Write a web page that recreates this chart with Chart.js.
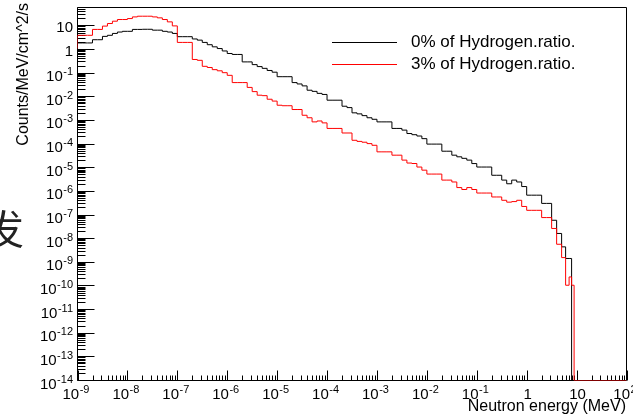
<!DOCTYPE html>
<html><head><meta charset="utf-8">
<script src="https://cdn.jsdelivr.net/npm/chart.js@4.4.1/dist/chart.umd.min.js"></script>
<style>
html,body{margin:0;padding:0;background:#fff;}
#wrap{position:relative;width:633px;height:414px;overflow:hidden;background:#fff;}
#c{position:absolute;left:0;top:0;}
#cjk{position:absolute;left:-16px;top:207px;font-family:"Noto Sans CJK SC";font-size:40px;line-height:40px;color:#222;}
</style></head><body>
<div id="wrap"><canvas id="c" width="633" height="414"></canvas><div id="cjk">发</div></div>
<script>
// Bin left edges, as log10(E / MeV); the last bin ends at lastEdgeExponent
const edgeExponents = [
  -9,-8.9,-8.8,-8.7,-8.6,-8.5,-8.4,-8.3,-8.2,-8.1,
  -8,-7.9,-7.8,-7.7,-7.6,-7.5,-7.4,-7.3,-7.2,-7.1,
  -7,-6.9,-6.8,-6.7,-6.6,-6.5,-6.4,-6.3,-6.2,-6.1,
  -6,-5.9,-5.8,-5.7,-5.6,-5.5,-5.4,-5.3,-5.2,-5.1,
  -5,-4.9,-4.8,-4.7,-4.6,-4.5,-4.4,-4.3,-4.2,-4.1,
  -4,-3.9,-3.8,-3.7,-3.6,-3.5,-3.4,-3.3,-3.2,-3.1,
  -3,-2.9,-2.8,-2.7,-2.6,-2.5,-2.4,-2.3,-2.2,-2.1,
  -2,-1.9,-1.8,-1.7,-1.6,-1.5,-1.4,-1.3,-1.2,-1.1,
  -1,-0.9,-0.8,-0.7,-0.6,-0.5,-0.4,-0.3,-0.2,-0.1,
  0,0.1,0.2,0.3,0.4,0.5,0.6,0.7,
  0.78,0.85,0.9,0.95
];
const lastEdgeExponent = 2;
const startLevel = 1.1;

// 0% of Hydrogen.ratio. (black)
const hydrogen0 = [
  1.9,1.9,1.9,2.6,2.6,3.6,4.0,4.8,5.5,5.9,
  5.9,7.1,7.1,7.2,7.2,6.6,6.6,5.9,5.5,4.8,
  3.5,3.5,3.5,2.8,2.5,2.0,1.6,1.3,1.1,0.87,
  0.68,0.62,0.62,0.30,0.30,0.23,0.19,0.16,0.13,0.11,
  0.071,0.071,0.071,0.040,0.035,0.029,0.019,0.017,0.014,0.0126,
  0.0072,0.0072,0.0072,0.0040,0.0035,0.0021,0.0019,0.0016,0.0013,0.00112,
  8.7e-4,8.7e-4,8.7e-4,4.6e-4,4.6e-4,3.9e-4,2.8e-4,2.5e-4,2.2e-4,1.7e-4,
  1.0e-4,1.0e-4,1.0e-4,5.0e-5,5.0e-5,3.4e-5,2.9e-5,2.5e-5,2.1e-5,1.5e-5,
  1.07e-5,1.07e-5,1.07e-5,4.8e-6,4.8e-6,3.0e-6,2.1e-6,3.0e-6,2.5e-6,1.6e-6,
  6.9e-7,6.9e-7,6.9e-7,3.1e-7,3.1e-7,6.0e-8,1.66e-8,4.5e-9,
  1.45e-9,1.45e-9,1e-14,1e-14
];
// 3% of Hydrogen.ratio. (red)
const hydrogen3 = [
  4.0,4.0,4.0,7.1,7.1,9.8,12.6,15.8,18.6,18.6,
  20.4,24.0,25.7,25.7,25.7,24.0,21.9,18.6,14.8,10.0,
  2.0,2.0,2.0,0.38,0.35,0.195,0.174,0.141,0.126,0.105,
  0.081,0.040,0.040,0.040,0.025,0.0166,0.0117,0.0112,0.0079,0.0066,
  0.0044,0.0042,0.0042,0.0029,0.0029,0.00166,0.0013,8.7e-4,9.5e-4,7.9e-4,
  4.6e-4,4.6e-4,4.6e-4,2.95e-4,2.95e-4,1.45e-4,1.3e-4,1.2e-4,1.05e-4,8.9e-5,
  4.7e-5,4.7e-5,4.7e-5,3.4e-5,3.4e-5,2.1e-5,1.58e-5,1.51e-5,1.07e-5,7.9e-6,
  5.4e-6,5.4e-6,5.4e-6,3.0e-6,3.0e-6,2.5e-6,1.45e-6,1.2e-6,1.45e-6,1.2e-6,
  8.5e-7,8.5e-7,8.5e-7,5.8e-7,5.8e-7,4.2e-7,3.5e-7,3.7e-7,4.2e-7,2.3e-7,
  1.58e-7,1.58e-7,1.58e-7,7.8e-8,7.8e-8,2.7e-8,5.8e-9,1.58e-9,
  1.07e-10,2.4e-10,1.07e-10,1e-14
];

const seriesLabels = ["0% of Hydrogen.ratio.", "3% of Hydrogen.ratio."];
const seriesColors = ["#000000", "#ff0000"];
const xTickExponents = [-9,-8,-7,-6,-5,-4,-3,-2,-1,0,1,2];
const yTickExponents = [-14,-13,-12,-11,-10,-9,-8,-7,-6,-5,-4,-3,-2,-1,0,1];
const minorMultipliers = [2,3,4,5,6,7,8,9];
const xTitle = "Neutron energy (MeV)";
const yTitle = "Counts/MeV/cm^2/s";
const X_MIN = 1e-9, X_MAX = 100, Y_MIN = 1e-14, Y_MAX = 60;

function histPoints(values) {
  const pts = [{x: 10 ** edgeExponents[0], y: startLevel}];
  for (let i = 0; i < values.length; i++) pts.push({x: 10 ** edgeExponents[i], y: values[i]});
  pts.push({x: 10 ** lastEdgeExponent, y: values[values.length - 1]});
  return pts;
}

const FONT = '"Liberation Sans", Arial, Helvetica, sans-serif';

function drawPow(ctx, e, anchorX, tickPos, mode) {
  const baseSize = 15, expSize = 11;
  if (e === 0 || e === 1) {
    const s = e === 0 ? "1" : "10";
    ctx.font = baseSize + 'px ' + FONT;
    const w = ctx.measureText(s).width;
    if (mode === 'x') ctx.fillText(s, anchorX - w / 2 + 1, tickPos);
    else ctx.fillText(s, anchorX - w, tickPos);
    return;
  }
  ctx.font = baseSize + 'px ' + FONT;
  const w1 = ctx.measureText("10").width;
  ctx.font = expSize + 'px ' + FONT;
  const es = String(e);
  const w2 = ctx.measureText(es).width;
  const total = w1 + w2 + 0.5;
  const x0 = mode === 'x' ? anchorX - total / 2 - 1.5 : anchorX - total;
  ctx.font = baseSize + 'px ' + FONT;
  ctx.fillText("10", x0, tickPos);
  ctx.font = expSize + 'px ' + FONT;
  ctx.fillText(es, x0 + w1 + 0.5, tickPos - 6);
}

const rootAxes = {
  id: 'rootAxes',
  beforeDatasetsDraw(chart) {
    const {ctx, chartArea: a, scales: {x, y}} = chart;
    const L = a.left, R = a.right, T = a.top, B = a.bottom;
    ctx.save();
    ctx.strokeStyle = '#000';
    ctx.lineWidth = 1;
    ctx.beginPath();
    ctx.moveTo(L, T); ctx.lineTo(R, T); ctx.lineTo(R, B); ctx.lineTo(L, B); ctx.closePath();
    for (const e of xTickExponents) {
      const px = Math.round(x.getPixelForValue(10 ** e)) + 0.5;
      ctx.moveTo(px, B); ctx.lineTo(px, B - 10);
      if (e < 2) for (const m of minorMultipliers) {
        const q = Math.round(x.getPixelForValue(m * 10 ** e)) + 0.5;
        ctx.moveTo(q, B); ctx.lineTo(q, B - 5);
      }
    }
    for (const e of yTickExponents) {
      const py = Math.round(y.getPixelForValue(10 ** e) - 0.5) + 0.5;
      ctx.moveTo(L, py); ctx.lineTo(L + 17, py);
      for (const m of minorMultipliers) {
        const v = m * 10 ** e;
        if (v > Y_MAX) continue;
        const q = Math.round(y.getPixelForValue(v) - 0.5) + 0.5;
        ctx.moveTo(L, q); ctx.lineTo(L + 8, q);
      }
    }
    ctx.stroke();
    ctx.restore();
  },
  afterDraw(chart) {
    const {ctx, scales: {x, y}} = chart;
    ctx.save();
    ctx.fillStyle = '#000';
    ctx.textBaseline = 'alphabetic';
    for (const e of xTickExponents) drawPow(ctx, e, x.getPixelForValue(10 ** e), 399, 'x');
    for (const e of yTickExponents) {
      const py = y.getPixelForValue(10 ** e);
      drawPow(ctx, e, 73, py + ((e === 0 || e === 1) ? 6 : 8), 'y');
    }
    ctx.font = '16px ' + FONT;
    ctx.textAlign = 'right';
    ctx.fillText(xTitle, 626, 411);
    ctx.save();
    ctx.translate(28, 3);
    ctx.rotate(-Math.PI / 2);
    ctx.fillText(yTitle, 0, 0);
    ctx.restore();
    ctx.textAlign = 'left';
    ctx.font = '17px ' + FONT;
    const rows = [42.5, 64.5];
    chart.data.datasets.forEach((ds) => {
      const idx = seriesLabels.indexOf(ds.label);
      const ly = rows[idx];
      ctx.strokeStyle = ds.borderColor;
      ctx.lineWidth = 1;
      ctx.beginPath();
      ctx.moveTo(332, ly); ctx.lineTo(397, ly);
      ctx.stroke();
      ctx.fillStyle = '#000';
      ctx.textBaseline = 'middle';
      ctx.fillText(ds.label, 411, ly);
    });
    ctx.restore();
  }
};

new Chart(document.getElementById('c'), {
  type: 'line',
  data: {
    datasets: [
      {label: seriesLabels[1], data: histPoints(hydrogen3), borderColor: seriesColors[1], order: 0},
      {label: seriesLabels[0], data: histPoints(hydrogen0), borderColor: seriesColors[0], order: 1}
    ].map(d => Object.assign(d, {stepped: 'before', borderWidth: 1, pointRadius: 0, tension: 0, fill: false}))
  },
  options: {
    responsive: false,
    animation: false,
    devicePixelRatio: 1,
    layout: {padding: {left: 77.5, right: 6.5, top: 7.5, bottom: 33.5}},
    plugins: {legend: {display: false}, tooltip: {enabled: false}, title: {display: false}},
    scales: {
      x: {type: 'logarithmic', min: X_MIN, max: X_MAX, display: false},
      y: {type: 'logarithmic', min: Y_MIN, max: Y_MAX, display: false}
    }
  },
  plugins: [rootAxes]
});
</script>
</body></html>
